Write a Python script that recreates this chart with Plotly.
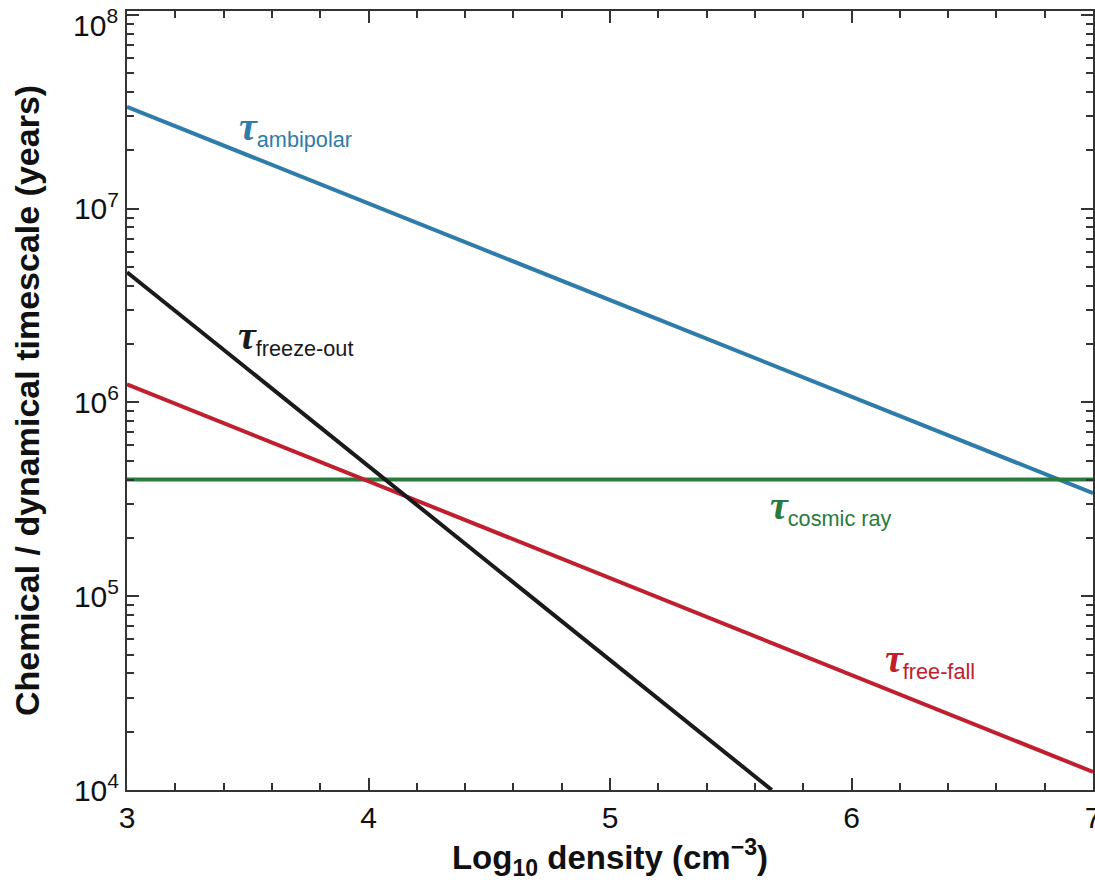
import plotly.graph_objects as go

# Data
density_log = [3, 7]
tau_ambipolar = [3.35e7, 3.4e5]
freeze_x = [3, 5.67]
tau_freeze = [4.7e6, 1.0e4]
tau_freefall = [1.24e6, 1.24e4]
tau_cosmic = [4.0e5, 4.0e5]

x_ticks = [3, 4, 5, 6, 7]
y_tickvals = [1e4, 1e5, 1e6, 1e7, 1e8]
y_ticktext = ["10<sup>4</sup>", "10<sup>5</sup>", "10<sup>6</sup>", "10<sup>7</sup>", ""]
top_label = "10<sup>8</sup>"

BLUE = "#2f7ca8"
BLACK = "#1a1a1a"
RED = "#c0202e"
GREEN = "#2b7a3d"

fig = go.Figure()
fig.add_trace(go.Scatter(x=density_log, y=tau_ambipolar, mode="lines", line=dict(color=BLUE, width=4)))
fig.add_trace(go.Scatter(x=density_log, y=tau_cosmic, mode="lines", line=dict(color=GREEN, width=4)))
fig.add_trace(go.Scatter(x=density_log, y=tau_freefall, mode="lines", line=dict(color=RED, width=4)))
fig.add_trace(go.Scatter(x=freeze_x, y=tau_freeze, mode="lines", line=dict(color=BLACK, width=4)))

TAU = '<span style="font-family:Liberation Serif;font-size:40px"><b><i>τ</i></b></span>'

labels = [
    ("ambipolar", 3.455, 7.415, BLUE),
    ("freeze-out", 3.45, 6.34, BLACK),
    ("cosmic ray", 5.655, 5.46, GREEN),
    ("free-fall", 6.13, 4.67, RED),
]
for name, lx, ly, col in labels:
    fig.add_annotation(x=lx, y=ly, xref="x", yref="y", xanchor="left", yanchor="middle",
                       text=TAU + "<sub>" + name + "</sub>", showarrow=False,
                       font=dict(family="Liberation Sans", size=31, color=col))

# top tick label (placed slightly lower so it stays inside the page, as in the reference)
fig.add_annotation(x=0, y=8, xref="paper", yref="y", xanchor="right", yanchor="middle",
                   xshift=-7, yshift=-8, text=top_label, showarrow=False,
                   font=dict(family="Liberation Sans", size=30, color="#111"))

minor_x = [3 + 0.2 * i for i in range(21) if i % 5 != 0]
minor_y = [m * 10 ** e for e in range(4, 8) for m in range(2, 10)]

axis_common = dict(showline=True, linecolor="#333", linewidth=2, mirror="ticks",
                   ticks="inside", tickcolor="#333", tickwidth=2, ticklen=12,
                   showgrid=False, zeroline=False, ticklabeloverflow="allow", automargin=False,
                   tickfont=dict(family="Liberation Sans", size=30, color="#111"))

fig.update_xaxes(range=[3, 7], tickmode="array", tickvals=x_ticks,
                 minor=dict(tickmode="array", tickvals=minor_x, ticks="inside", ticklen=7,
                            tickcolor="#333", tickwidth=2),
                 title=dict(text="<b>Log<sub>10</sub> density (cm<sup>−3</sup>)</b>",
                            font=dict(family="Liberation Sans", size=33, color="#111"), standoff=8),
                 **axis_common)
fig.update_yaxes(type="log", range=[4, 8.02], tickmode="array", tickvals=y_tickvals, ticktext=y_ticktext,
                 minor=dict(tickmode="array", tickvals=minor_y, ticks="inside", ticklen=7,
                            tickcolor="#333", tickwidth=2),
                 title=dict(text="<b>Chemical / dynamical timescale (years)</b>",
                            font=dict(family="Liberation Sans", size=34, color="#111"), standoff=24),
                 **axis_common)

fig.update_layout(width=1095, height=887, showlegend=False,
                  paper_bgcolor="white", plot_bgcolor="white",
                  margin=dict(l=127, r=2, t=11, b=97))
fig.write_html("out.html", config={"displayModeBar": False},
               post_script="document.body.style.margin='0';document.body.style.overflow='hidden';")
